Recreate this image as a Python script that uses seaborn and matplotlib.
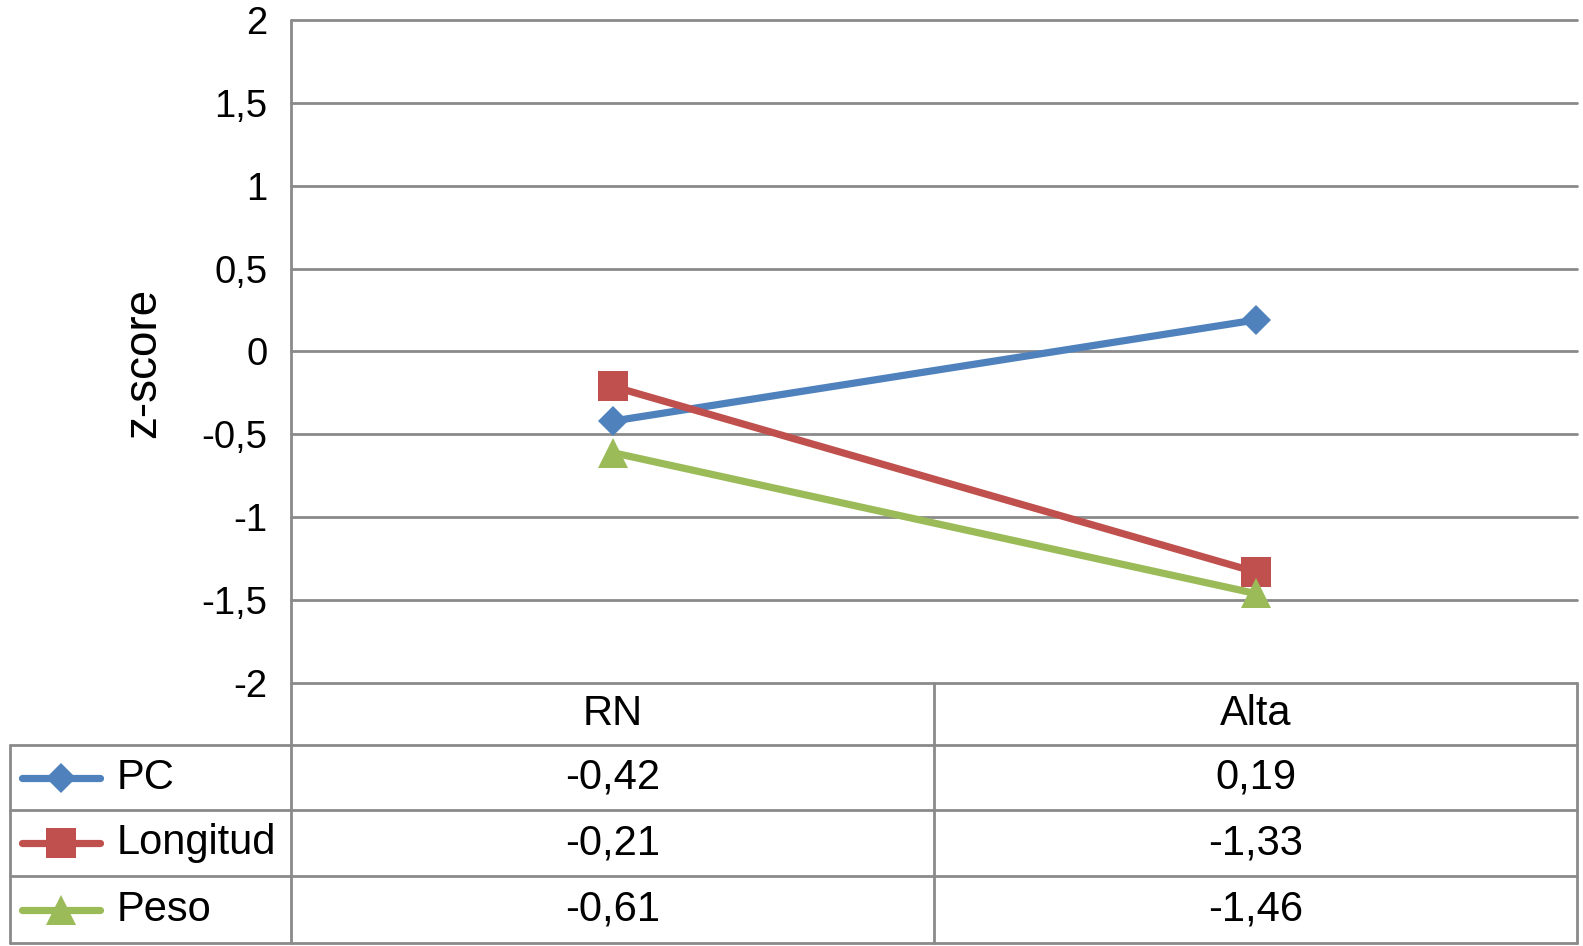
# z-score chart (RN vs Alta) with an Excel-style data table underneath

# %%
import numpy as np
import pandas as pd
import seaborn as sns
import matplotlib.pyplot as plt
from matplotlib.transforms import blended_transform_factory

# %%
# values
categories = ['RN', 'Alta']
series = ['PC', 'Longitud', 'Peso']
pc = [-0.42, 0.19]
longitud = [-0.21, -1.33]
peso = [-0.61, -1.46]
yticks = [-2, -1.5, -1, -0.5, 0, 0.5, 1, 1.5, 2]
ytick_labels = ['-2', '-1,5', '-1', '-0,5', '0', '0,5', '1', '1,5', '2']

data = pd.DataFrame({
    'serie': np.repeat(series, len(categories)),
    'momento': categories * len(series),
    'z': pc + longitud + peso,
})

colors = {'PC': '#4F81BD', 'Longitud': '#C0504D', 'Peso': '#9BBB59'}
markers = {'PC': 'D', 'Longitud': 's', 'Peso': '^'}
msizes = {'PC': 15.5, 'Longitud': 21, 'Peso': 21}
grey = '#8a8a8a'

def fmt(v):
    return f'{v:.2f}'.replace('.', ',')

# %%
sns.set_theme(style='white')
plt.rcParams['font.family'] = ['Liberation Sans', 'DejaVu Sans']
plt.rcParams['text.color'] = 'black'
plt.rcParams['ytick.color'] = 'black'

W, H = 1583, 946
fig = plt.figure(figsize=(W / 100, H / 100), dpi=100)

# table layer in pixel coordinates
ax_t = fig.add_axes([0, 0, 1, 1])
ax_t.set_xlim(0, W)
ax_t.set_ylim(H, 0)
ax_t.axis('off')

x_left, x_col, x_right = 291, 291, 1577
y_top = 20
rows_y = [683, 745, 810, 876, 943]

ax = fig.add_axes([x_left / W, 1 - rows_y[0] / H,
                   (x_right - x_left) / W, (rows_y[0] - y_top) / H])
ax.patch.set_alpha(0)

for s in series:
    d = data[data['serie'] == s]
    sns.lineplot(data=d, x='momento', y='z', ax=ax, sort=False,
                 color=colors[s], linewidth=5.2, marker=markers[s],
                 markersize=msizes[s], markeredgewidth=0, label=s)

ax.set_xlim(-0.5, 1.5)
ax.set_ylim(-2, 2)
ax.set_yticks(yticks)
ax.set_yticklabels(ytick_labels, fontsize=27.5)
ax.tick_params(axis='y', length=0, pad=17)
ax.set_xticks([])
ax.set_xlabel('')
ax.set_ylabel('')
for t in yticks:
    ax.axhline(t, color=grey, linewidth=2.0, zorder=0, clip_on=False)
for sp in ax.spines.values():
    sp.set_visible(False)
ax.legend().remove()
ax.text(-0.115, 0.483, 'z-score', transform=ax.transAxes, rotation=90,
        ha='center', va='center', fontsize=33)

# %%
# data table
lw = 2.0
ax_t.plot([x_col, x_col], [y_top, rows_y[-1]], color=grey, lw=lw)
ax_t.plot([x_right, x_right], [rows_y[0], rows_y[-1]], color=grey, lw=lw)
ax_t.plot([10, 10], [rows_y[1], rows_y[-1]], color=grey, lw=lw)
mid_x = (x_left + x_right) / 2
ax_t.plot([mid_x, mid_x], [rows_y[0], rows_y[-1]], color=grey, lw=lw)
for yy in rows_y[1:]:
    ax_t.plot([10, x_right], [yy, yy], color=grey, lw=lw)

tr = blended_transform_factory(ax.transData, ax_t.transData)
hy = (rows_y[0] + rows_y[1]) / 2
for i, c in enumerate(categories):
    ax_t.text(i, hy, c, transform=tr, ha='center', va='center', fontsize=30)

for r, (s, vals) in enumerate(zip(series, [pc, longitud, peso])):
    cy = (rows_y[r + 1] + rows_y[r + 2]) / 2
    ax_t.plot([22, 100], [cy, cy], color=colors[s], lw=5.2,
              solid_capstyle='round')
    ax_t.plot([61], [cy], color=colors[s], marker=markers[s],
              markersize=msizes[s], markeredgewidth=0)
    ax_t.text(117, cy, s, ha='left', va='center', fontsize=30)
    for i, v in enumerate(vals):
        ax_t.text(i, cy, fmt(v), transform=tr, ha='center', va='center',
                  fontsize=30)

fig.savefig('out.png', dpi=100)
